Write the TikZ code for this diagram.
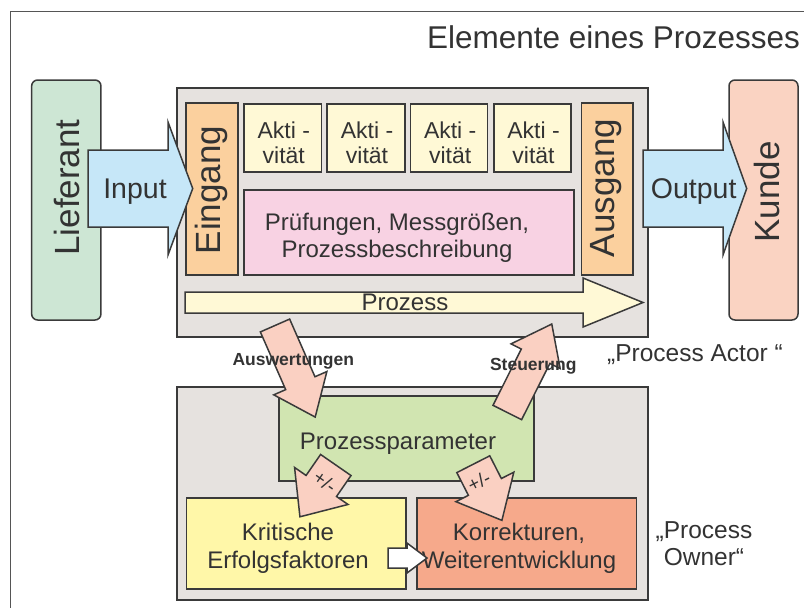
\documentclass[tikz,border=0pt]{standalone}
\usepackage{fontspec}
\setmainfont{Liberation Sans}
\definecolor{edge}{HTML}{3A3A3A}
\definecolor{ink}{HTML}{333333}
\definecolor{framec}{HTML}{555555}
\definecolor{cGray}{HTML}{E6E2DF}
\definecolor{cLief}{HTML}{CDE6D4}
\definecolor{cKunde}{HTML}{FAD3C2}
\definecolor{cBlue}{HTML}{C6E7F8}
\definecolor{cOrange}{HTML}{FBD09E}
\definecolor{cAkt}{HTML}{FFF9D6}
\definecolor{cPink}{HTML}{F8D2E3}
\definecolor{cParam}{HTML}{D1E5B1}
\definecolor{cKrit}{HTML}{FFF7A8}
\definecolor{cKorr}{HTML}{F6A98B}
\definecolor{cArr}{HTML}{FAD0C2}
\newcommand\blkarrow[8]{%
  \begin{scope}[shift={(#1,#2)},rotate=#3]
    \draw[barrow,#8] (0,{-#5/2}) -- ({#4-#7},{-#5/2}) -- ({#4-#7},{-#6/2}) -- (#4,0)
      -- ({#4-#7},{#6/2}) -- ({#4-#7},{#5/2}) -- (0,{#5/2}) -- cycle;
  \end{scope}}
\newcommand\fs[2]{\fontsize{#1}{#2}\selectfont}
\begin{document}
\begin{tikzpicture}[x=1pt,y=-1pt,
  box/.style={draw=edge, line width=1.5pt, inner sep=0pt, outer sep=0pt},
  txt/.style={text=ink, inner sep=0pt, outer sep=0pt},
  barrow/.style={draw=edge, line width=1.5pt, line join=miter}]
\useasboundingbox (0,0) rectangle (804,608);
% frame
\draw[framec, line width=1pt] (10.5,608) -- (10.5,11.5) -- (804,11.5);
\node[txt, anchor=base east, font=\fs{31.5}{36}] (title) at (800,48) {Elemente eines Prozesses};
% side boxes
\node[box, fill=cLief, rounded corners=6pt, minimum width=69.3pt, minimum height=240pt] (lief) at (66.3,200) {};
\node[box, fill=cKunde, rounded corners=6pt, minimum width=69pt, minimum height=240pt] (kunde) at (763.5,200) {};
\node[txt, rotate=90, font=\fs{35}{40}] (tlief) at (67,187.5) {Lieferant};
\node[txt, rotate=90, font=\fs{35}{40}] (tkunde) at (767,192) {Kunde};
% process actor box
\node[box, fill=cGray, minimum width=471pt, minimum height=249pt] (proc) at (412.5,212.5) {};
\node[box, fill=cOrange, minimum width=52pt, minimum height=172pt] (ein) at (212,189) {};
\node[box, fill=cOrange, minimum width=51.3pt, minimum height=172pt] (aus) at (607.3,189) {};
\node[txt, rotate=90, font=\fs{35}{40}] (tein) at (211.5,190) {Eingang};
\node[txt, rotate=90, font=\fs{35}{40}] (taus) at (606,188) {Ausgang};
\foreach \n/\cx/\w in {a1/282.8/77.7, a2/366/78, a3/449.2/77, a4/532.5/77}{
  \node[box, fill=cAkt, minimum width=\w pt, minimum height=68pt] (\n) at (\cx,138) {};
  \node[txt, align=center, anchor=base, font=\fs{23}{25}] (t\n) at (\cx+1,163) {Akti -\\vität};
}
\node[box, fill=cPink, minimum width=330pt, minimum height=85pt] (pruef) at (409,232.5) {};
\node[txt, align=center, anchor=base, font=\fs{24}{27}] (tpruef) at (397,257) {Prüfungen, Messgrößen,\\Prozessbeschreibung};
% input / output arrows
\blkarrow{88}{188.5}{0}{104.7}{77}{133}{24.7}{fill=cBlue}
\blkarrow{643}{188.5}{0}{103.7}{77}{133}{23.7}{fill=cBlue}
\node[txt, anchor=base, font=\fs{28.5}{32}] (tin) at (135,198) {Input};
\node[txt, anchor=base, font=\fs{28.5}{32}] (tout) at (693.7,198) {Output};
% Prozess arrow
\blkarrow{185}{302.5}{0}{458}{21}{49}{60}{fill=cAkt}
\node[txt, anchor=base, font=\fs{24}{28}] (tprozess) at (405,310.7) {Prozess};
\node[txt, anchor=base, font=\fs{24.5}{28}] (tactor) at (695,361.7) {„Process Actor “};
% process owner box
\node[box, fill=cGray, minimum width=471pt, minimum height=213pt] (owner) at (412.5,493.5) {};
\node[box, fill=cParam, minimum width=255pt, minimum height=85pt] (param) at (406.5,438.5) {};
\node[box, fill=cKrit, minimum width=219.3pt, minimum height=91pt] (krit) at (296.3,543.5) {};
\node[box, fill=cKorr, minimum width=219.7pt, minimum height=91pt] (korr) at (526.8,543.5) {};
\node[txt, anchor=base, font=\fs{24}{28}] (tparam) at (398,449) {Prozessparameter};
\node[txt, align=center, anchor=base, font=\fs{24}{28}] (tkrit) at (288,568) {Kritische\\Erfolgsfaktoren};
\node[txt, align=center, anchor=base, font=\fs{24}{28}] (tkorr) at (519,568) {Korrekturen,\\Weiterentwicklung};
\node[txt, align=center, anchor=base, font=\fs{24.5}{27}] (towner) at (704,565) {„Process\\Owner“};
% white arrow
\blkarrow{388}{558}{0}{39}{20}{30}{20}{fill=white}
% big pink arrows
\blkarrow{275}{325.5}{-66.3}{100}{32}{58}{37}{fill=cArr}
\blkarrow{507.3}{412.5}{63.3}{99}{32}{55}{36}{fill=cArr}
\node[txt, anchor=base, font=\bfseries\fs{17.5}{20}] (taus2) at (293.3,365) {Auswertungen};
\node[txt, anchor=base, font=\bfseries\fs{17.5}{20}] (tsteu) at (533.3,370.7) {Steuerung};
% small +/- arrows
\blkarrow{335.8}{465}{-124.7}{63}{37}{65}{37.5}{fill=cArr}
\blkarrow{473.3}{464.2}{-63}{63}{37}{65}{37.5}{fill=cArr}
\node[txt, rotate=-34.5, font=\fs{19}{22}] (pm1) at (325,481.7) {+/-};
\node[txt, rotate=27, font=\fs{19}{22}] (pm2) at (479,481.7) {+/-};
\end{tikzpicture}
\end{document}
